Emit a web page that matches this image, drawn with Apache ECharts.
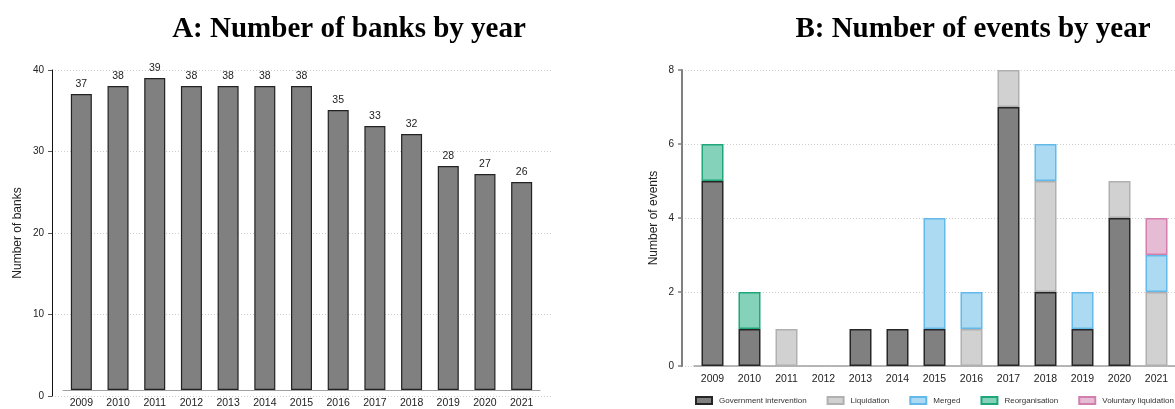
<!DOCTYPE html>
<html>
<head>
<meta charset="utf-8">
<script src="https://cdn.jsdelivr.net/npm/echarts@6/dist/echarts.min.js"></script>
<style>
html,body{margin:0;padding:0;background:#fff;}
#chart{width:1175px;height:409px;}
</style>
</head>
<body>
<div id="chart"></div>
<script>
// ---- data ----
const years = ['2009','2010','2011','2012','2013','2014','2015','2016','2017','2018','2019','2020','2021'];
const banks = [37, 38, 39, 38, 38, 38, 38, 35, 33, 32, 28, 27, 26];
const eventTypes = ['Government intervention', 'Liquidation', 'Merged', 'Reorganisation', 'Voluntary liquidation'];
const govIntervention = [5, 1, 0, 0, 1, 1, 1, 0, 7, 2, 1, 4, 0];
const liquidation     = [0, 0, 1, 0, 0, 0, 0, 1, 1, 3, 0, 1, 2];
const merged          = [0, 0, 0, 0, 0, 0, 3, 1, 0, 1, 1, 0, 1];
const reorganisation  = [1, 1, 0, 0, 0, 0, 0, 0, 0, 0, 0, 0, 0];
const voluntaryLiq    = [0, 0, 0, 0, 0, 0, 0, 0, 0, 0, 0, 0, 1];
const banksTicks = [0, 10, 20, 30, 40];
const eventsTicks = [0, 2, 4, 6, 8];

const eventValues = [govIntervention, liquidation, merged, reorganisation, voluntaryLiq];
const eventStyles = [
  {color: '#808080', borderColor: '#262626'},
  {color: '#d1d1d1', borderColor: '#b0b0b0'},
  {color: '#acdaf3', borderColor: '#62b9ea'},
  {color: '#84d2b9', borderColor: '#1fa67a'},
  {color: '#e6bcd4', borderColor: '#d27fae'}
];

const sans = 'Liberation Sans, Arial, sans-serif';
const chart = echarts.init(document.getElementById('chart'), null, {renderer: 'canvas'});

const gridLine = {show: true, lineStyle: {color: '#cfcfcf', type: [1, 2], width: 1}};

const option = {
  animation: false,
  backgroundColor: '#fff',
  title: [
    {text: 'A: Number of banks by year', left: 344, top: 10, textAlign: 'center',
     textStyle: {fontFamily: 'Liberation Serif, Times New Roman, serif', fontWeight: 'bold', fontSize: 29, color: '#000'}},
    {text: 'B: Number of events by year', left: 968, top: 10, textAlign: 'center',
     textStyle: {fontFamily: 'Liberation Serif, Times New Roman, serif', fontWeight: 'bold', fontSize: 29, color: '#000'}}
  ],
  legend: {
    data: eventTypes,
    left: 695, top: 396, width: 520, padding: 0,
    icon: 'rect', itemWidth: 16, itemHeight: 7, itemGap: 20,
    textStyle: {fontFamily: sans, fontSize: 8, color: '#333', padding: [0, 0, 0, 2]}
  },
  grid: [
    {left: 52, right: 624, top: 70, bottom: 13},
    {left: 63, right: 635, top: 70, bottom: 13},
    {left: 682, right: 0, top: 70, bottom: 43},
    {left: 694, right: 0, top: 70, bottom: 43}
  ],
  xAxis: [
    {gridIndex: 0, type: 'value', show: false, min: 0, max: 1},
    {gridIndex: 1, type: 'category', data: years,
     axisLine: {show: true, lineStyle: {color: '#a0a0a0', width: 1}},
     axisTick: {show: false},
     axisLabel: {fontFamily: sans, fontSize: 10.5, color: '#222', margin: 8}},
    {gridIndex: 2, type: 'value', show: false, min: 0, max: 1},
    {gridIndex: 3, type: 'category', data: years,
     axisLine: {show: true, lineStyle: {color: '#a0a0a0', width: 1.5}},
     axisTick: {show: false},
     axisLabel: {fontFamily: sans, fontSize: 10.5, color: '#222', margin: 8}}
  ],
  yAxis: [
    {gridIndex: 0, type: 'value', min: banksTicks[0], max: banksTicks[banksTicks.length - 1],
     interval: banksTicks[1] - banksTicks[0],
     name: 'Number of banks', nameLocation: 'middle', nameGap: 28,
     nameTextStyle: {fontFamily: sans, fontSize: 12, color: '#222'},
     axisLine: {show: true, lineStyle: {color: '#111', width: 1}},
     axisTick: {show: true, length: 4, lineStyle: {color: '#555'}},
     axisLabel: {fontFamily: sans, fontSize: 10, color: '#222', margin: 8},
     splitLine: gridLine},
    {gridIndex: 1, type: 'value', show: false, min: banksTicks[0], max: banksTicks[banksTicks.length - 1]},
    {gridIndex: 2, type: 'value', min: eventsTicks[0], max: eventsTicks[eventsTicks.length - 1],
     interval: eventsTicks[1] - eventsTicks[0],
     name: 'Number of events', nameLocation: 'middle', nameGap: 22,
     nameTextStyle: {fontFamily: sans, fontSize: 12, color: '#222'},
     axisLine: {show: true, lineStyle: {color: '#808080', width: 2}},
     axisTick: {show: true, length: 4, lineStyle: {color: '#808080', width: 1.5}},
     axisLabel: {fontFamily: sans, fontSize: 10, color: '#222', margin: 8},
     splitLine: gridLine},
    {gridIndex: 3, type: 'value', show: false, min: eventsTicks[0], max: eventsTicks[eventsTicks.length - 1]}
  ],
  series: [
    {type: 'bar', xAxisIndex: 1, yAxisIndex: 1, data: banks, barWidth: 21,
     itemStyle: {color: '#808080', borderColor: '#222', borderWidth: 1.2},
     label: {show: true, position: 'top', distance: 4, fontFamily: sans, fontSize: 10.5, color: '#222'}}
  ].concat(eventTypes.map((name, i) => ({
    type: 'bar', name: name, xAxisIndex: 3, yAxisIndex: 3, stack: 'events', barWidth: 22,
    data: eventValues[i].map(v => v === 0 ? '-' : v),
    itemStyle: Object.assign({borderWidth: 1.5}, eventStyles[i])
  })))
};
chart.setOption(option);
</script>
</body>
</html>
